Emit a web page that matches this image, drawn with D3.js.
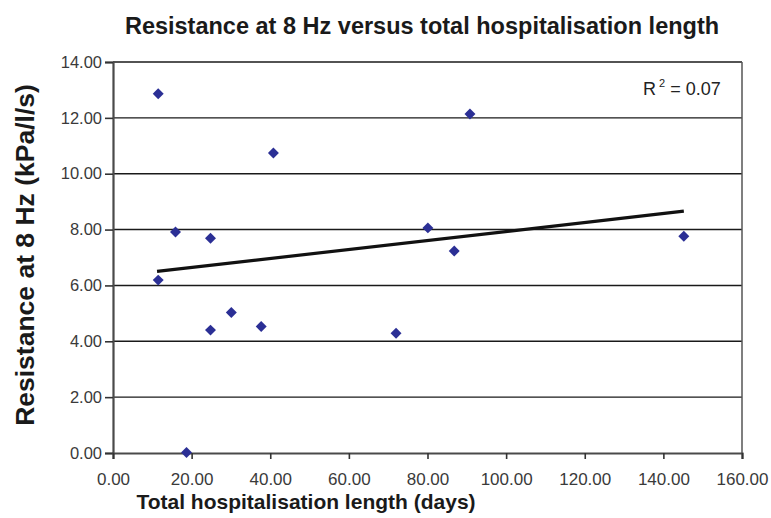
<!DOCTYPE html>
<html>
<head>
<meta charset="utf-8">
<script src="https://cdn.jsdelivr.net/npm/d3@7"></script>
<style>
body { margin: 0; background: #fff; }
text { font-family: Arial, "Liberation Sans", sans-serif; }
</style>
</head>
<body>
<script>
// values
var hospDays = [11.5, 15.9, 24.8, 11.5, 24.8, 30.1, 37.7, 18.7, 40.8, 72.0, 80.1, 86.8, 90.8, 145.2];
var resistance = [12.86, 7.91, 7.69, 6.19, 4.40, 5.03, 4.53, 0.02, 10.74, 4.29, 8.06, 7.23, 12.14, 7.76];
var trendX = [11.2, 145.2];
var trendY = [6.50, 8.66];
var xTicks = [0, 20, 40, 60, 80, 100, 120, 140, 160];
var yTicks = [0, 2, 4, 6, 8, 10, 12, 14];

var w = 771, h = 518;
var mLeft = 113, mRight = 742, mTop = 62, mBottom = 453;

var svg = d3.select("body").append("svg").attr("width", w).attr("height", h);

var x = d3.scaleLinear().domain([0, 160]).range([mLeft, mRight]);
var y = d3.scaleLinear().domain([0, 14]).range([mBottom, mTop]);

// horizontal gridlines
svg.append("g").selectAll("line").data(yTicks.filter(function(d){ return d > 0; })).enter().append("line")
    .attr("x1", mLeft).attr("x2", mRight)
    .attr("y1", function(d){ return y(d); }).attr("y2", function(d){ return y(d); })
    .attr("stroke", "#1a1a1a").attr("stroke-width", 1.4);

// right border
svg.append("line").attr("x1", mRight).attr("x2", mRight).attr("y1", mTop).attr("y2", mBottom)
    .attr("stroke", "#555").attr("stroke-width", 1.5);

// axes
var yAxis = d3.axisLeft(y).tickValues(yTicks).tickSize(8).tickPadding(3)
    .tickFormat(d3.format(".2f"));
var gy = svg.append("g").attr("transform", "translate(" + mLeft + ",0)").call(yAxis);

var xAxis = d3.axisBottom(x).tickValues(xTicks).tickSize(6).tickPadding(14)
    .tickFormat(d3.format(".2f"));
var gx = svg.append("g").attr("transform", "translate(0," + mBottom + ")").call(xAxis);

[gy, gx].forEach(function(g){
    g.select(".domain").attr("stroke", "#4a4a4a").attr("stroke-width", 2.2);
    g.selectAll(".tick line").attr("stroke", "#333").attr("stroke-width", 1.6);
    g.selectAll(".tick text").attr("fill", "#3a3a3a")
        .style("font-family", "Arial, 'Liberation Sans', sans-serif");
});
gy.selectAll(".tick text").style("font-size", "16.5px");
gx.selectAll(".tick text").style("font-size", "17px");

// trend line
var line = d3.line().x(function(d){ return x(d[0]); }).y(function(d){ return y(d[1]); });
svg.append("path").datum(d3.zip(trendX, trendY)).attr("d", line)
    .attr("fill", "none").attr("stroke", "#111").attr("stroke-width", 3.2);

// points
var marker = d3.symbol().type(d3.symbolSquare).size(60);
svg.append("g").selectAll("path").data(d3.zip(hospDays, resistance)).enter().append("path")
    .attr("d", marker)
    .attr("transform", function(d){ return "translate(" + x(d[0]) + "," + y(d[1]) + ") rotate(45)"; })
    .attr("fill", "#2b2f95");

// R squared
var r2 = svg.append("text").attr("x", 643).attr("y", 95).attr("fill", "#222")
    .style("font-size", "18px");
r2.append("tspan").text("R");
r2.append("tspan").attr("dy", -8).style("font-size", "11px").text(" 2");
r2.append("tspan").attr("dy", 8).text(" = 0.07");

// title
svg.append("text").attr("x", 422).attr("y", 34).attr("text-anchor", "middle")
    .style("font-weight", "bold").style("font-size", "23.5px").attr("fill", "#1a1a1a")
    .text("Resistance at 8 Hz versus total hospitalisation length");

// y label
svg.append("text").attr("transform", "translate(34,255) rotate(-90)").attr("text-anchor", "middle")
    .style("font-weight", "bold").style("font-size", "26.5px").attr("fill", "#1a1a1a")
    .text("Resistance at 8 Hz (kPa/l/s)");

// x label
svg.append("text").attr("x", 306).attr("y", 509).attr("text-anchor", "middle")
    .style("font-weight", "bold").style("font-size", "21px").attr("fill", "#1a1a1a")
    .text("Total hospitalisation length (days)");
</script>
</body>
</html>
